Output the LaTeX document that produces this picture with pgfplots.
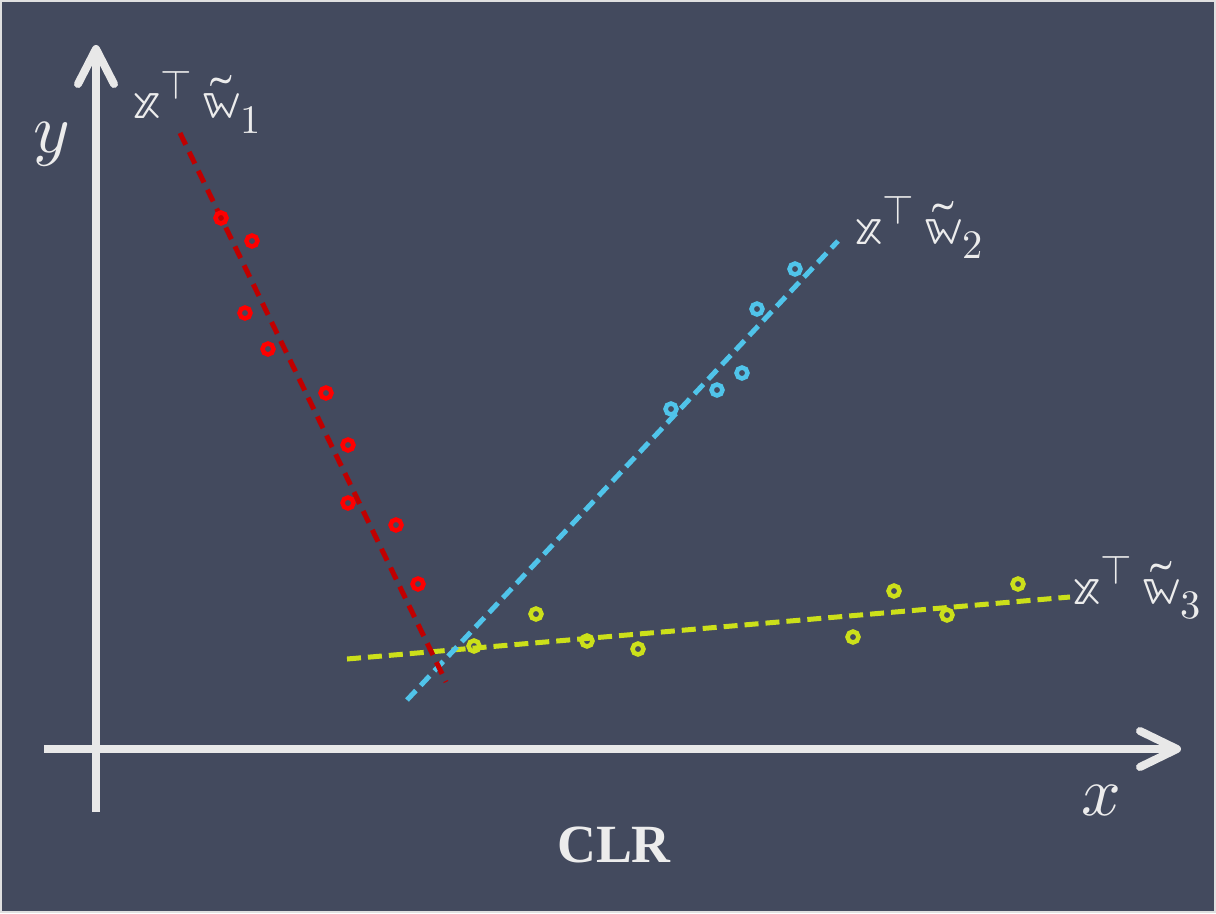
\documentclass[border=0pt]{standalone}
\usepackage{pgfplots}
\pgfplotsset{compat=1.18}
\usepackage{fontspec}
\usepackage{unicode-math}
\setmainfont{Liberation Serif}
\setmathfont{Latin Modern Math}
\definecolor{bg}{RGB}{67,74,94}
\definecolor{axcol}{RGB}{232,232,232}
\definecolor{txt}{RGB}{236,236,236}
\definecolor{redpt}{RGB}{255,0,0}
\definecolor{redln}{RGB}{192,0,0}
\definecolor{bluec}{RGB}{80,196,234}
\definecolor{yelc}{RGB}{204,224,26}
\begin{document}
\begin{tikzpicture}
\begin{axis}[
  width=1216bp, height=913bp, scale only axis,
  xmin=0, xmax=1216, ymin=0, ymax=913, y dir=reverse,
  hide axis, clip=false,
]
\fill[bg] (axis cs:0,0) rectangle (axis cs:1216,913);
\draw[line width=2bp, color=black!12] (axis cs:1,1) rectangle (axis cs:1215,912);
% axes
\addplot[axcol, line width=8bp, line cap=butt] coordinates {(96,812) (96,50)};
\addplot[axcol, line width=8bp, line cap=round, line join=round] coordinates {(78,84) (96,49) (114,84)};
\addplot[axcol, line width=8bp, line cap=butt] coordinates {(44,749) (1176,749)};
\addplot[axcol, line width=8bp, line cap=round, line join=round] coordinates {(1140,731) (1177,749) (1140,767)};
% yellow
\addplot[yelc, line width=5bp, dash pattern=on 14bp off 7bp] coordinates {(347,659) (1070,597)};
\addplot[only marks, mark=o, mark size=5.5bp, yelc, mark options={line width=4.5bp}] coordinates {
 (474,646) (536,614) (587,641) (638,649) (853,637) (894,591) (947,615) (1018,584)};
% blue
\addplot[bluec, line width=5bp, dash pattern=on 13bp off 7bp] coordinates {(407,700) (838,241)};
\addplot[only marks, mark=o, mark size=5.5bp, bluec, mark options={line width=4.5bp}] coordinates {
 (671,409) (717,390) (742,373) (757,309) (795,269)};
% red
\addplot[redln, line width=5bp, dash pattern=on 13bp off 8bp] coordinates {(180,133) (446,682)};
\addplot[only marks, mark=o, mark size=5.5bp, redpt, mark options={line width=4.5bp}] coordinates {
 (221,218) (252,241) (245,313) (268,349) (326,393) (348,445) (348,503) (396,525) (418,584)};
% labels
\node[anchor=base west, inner sep=0, txt, font=\fontsize{58}{64}\selectfont] at (axis cs:133,119) {$\mathbb{x}^{\top}\,\tilde{\mathbb{w}}_1$};
\node[anchor=base west, inner sep=0, txt, font=\fontsize{58}{64}\selectfont] at (axis cs:855,244) {$\mathbb{x}^{\top}\,\tilde{\mathbb{w}}_2$};
\node[anchor=base west, inner sep=0, txt, font=\fontsize{58}{64}\selectfont] at (axis cs:1073,604) {$\mathbb{x}^{\top}\,\tilde{\mathbb{w}}_3$};
\node[anchor=base, inner sep=0, txt, font=\fontsize{70}{80}\selectfont] at (axis cs:52,152) {$y$};
\node[anchor=base, inner sep=0, txt, font=\fontsize{70}{80}\selectfont] at (axis cs:1101,815) {$x$};
\node[anchor=base, inner sep=0, txt, font=\fontsize{54}{60}\selectfont\bfseries] at (axis cs:614,862) {CLR};
\end{axis}
\end{tikzpicture}
\end{document}
